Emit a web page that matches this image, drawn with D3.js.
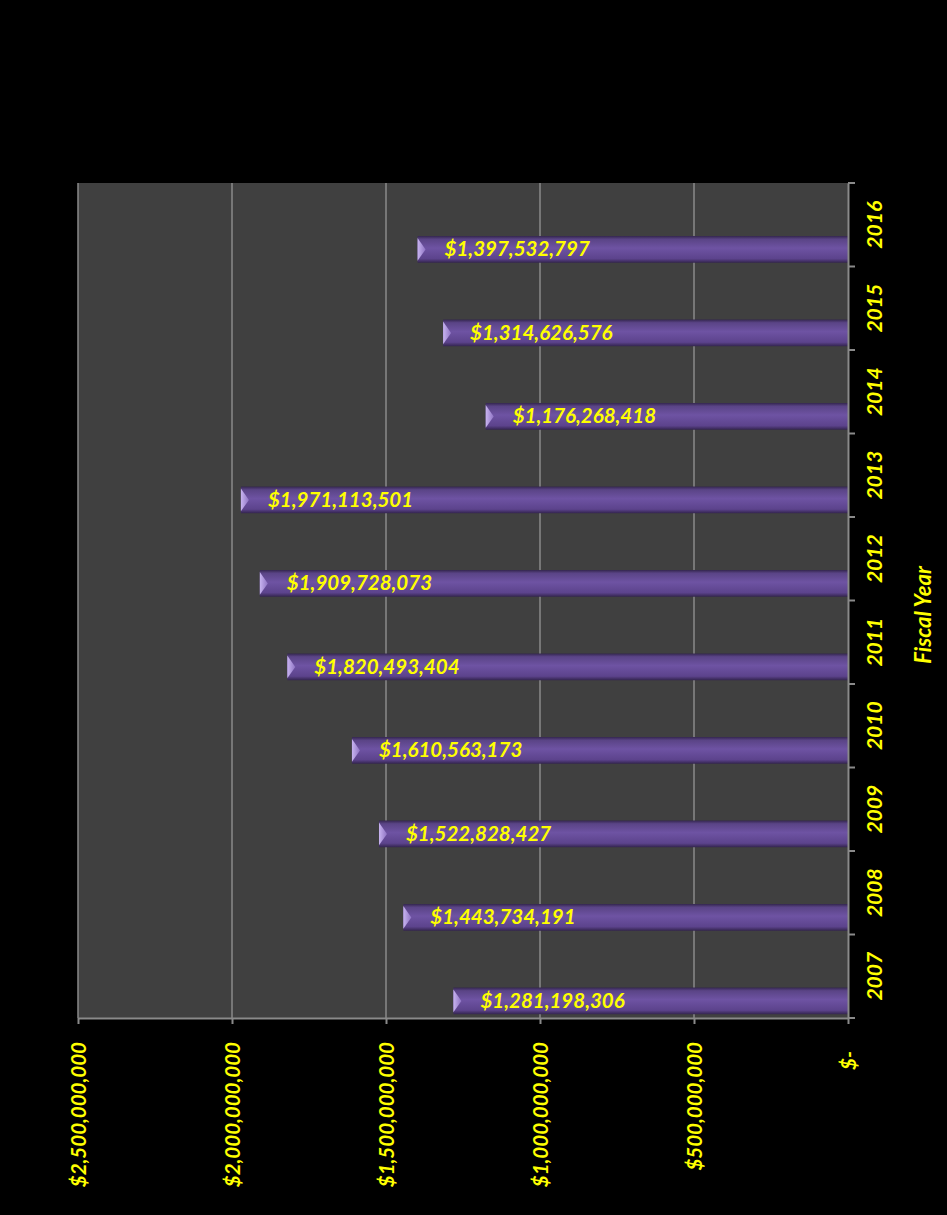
<!DOCTYPE html>
<html><head><meta charset="utf-8">
<script src="https://cdn.jsdelivr.net/npm/d3@7"></script>
<style>
html,body{margin:0;padding:0;background:#000;}
svg{display:block;}
text{font-family:Lato,"Open Sans",sans-serif;font-weight:bold;font-style:italic;fill:#ffff00;}
</style></head>
<body><svg id="chart" width="947" height="1215"></svg>
<script>
const years = ["2007","2008","2009","2010","2011","2012","2013","2014","2015","2016"];
const funding = [1281198306,1443734191,1522828427,1610563173,1820493404,1909728073,1971113501,1176268418,1314626576,1397532797];
const valueTicks = [0,500000000,1000000000,1500000000,2000000000,2500000000];
const axisTitle = "Fiscal Year";

(function(){
const svg = d3.select("#chart");
svg.append("rect").attr("width",947).attr("height",1215).attr("fill","#000");

const pL=78, pR=848, pT=183, pB=1018;
const x = d3.scaleLinear().domain([0,2500000000]).range([pR,pL]);
const y = d3.scaleBand().domain(years.slice().reverse()).range([pT,pB]).padding(0);
const bw = y.bandwidth();

const defs = svg.append("defs");
const g1 = defs.append("linearGradient").attr("id","barGrad").attr("x1",0).attr("y1",0).attr("x2",0).attr("y2",1);
[[0,"#34264f"],[0.12,"#5a4486"],[0.45,"#6e53a3"],[0.85,"#5c438c"],[1,"#33244e"]].forEach(s=>g1.append("stop").attr("offset",s[0]).attr("stop-color",s[1]));
const g2 = defs.append("linearGradient").attr("id","capGrad").attr("x1",0).attr("y1",0).attr("x2",1).attr("y2",0);
[[0,"#c8b4f0"],[1,"#8f74c4"]].forEach(s=>g2.append("stop").attr("offset",s[0]).attr("stop-color",s[1]));

svg.append("rect").attr("x",pL).attr("y",pT).attr("width",pR-pL).attr("height",pB-pT).attr("fill","#404040");

svg.append("g").selectAll("line").data(valueTicks.filter(d=>d>0)).join("line")
  .attr("x1",d=>x(d)).attr("x2",d=>x(d)).attr("y1",pT).attr("y2",pB)
  .attr("stroke","#8a8a8a").attr("stroke-width",1.5);

const data = years.map((yr,i)=>({yr, v:funding[i]}));
const bars = svg.append("g");
bars.selectAll("rect").data(data).join("rect")
  .attr("x",d=>x(d.v)).attr("y",d=>y(d.yr)+bw*0.635)
  .attr("width",d=>x(0)-x(d.v)).attr("height",bw*0.32)
  .attr("fill","url(#barGrad)");
bars.selectAll("path").data(data).join("path")
  .attr("d",d=>{
    const x0=x(d.v), y0=y(d.yr)+bw*0.635, h=bw*0.32;
    return `M${x0},${y0+2}L${x0+8},${y0+h*0.5}L${x0},${y0+h-2}Z`;
  })
  .attr("fill","url(#capGrad)");

svg.append("g").selectAll("text").data(data).join("text")
  .attr("x",d=>x(d.v)+27).attr("y",d=>y(d.yr)+bw*0.635+bw*0.16+7)
  .attr("font-size",20.5)
  .text(d=>d3.format("$,")(d.v));

const xAxis = svg.append("g").attr("transform",`translate(0,${pB})`)
  .call(d3.axisBottom(x).tickValues(valueTicks).tickSizeInner(6).tickSizeOuter(0)
    .tickFormat(d=> d===0 ? "$-  " : d3.format("$,")(d)));
xAxis.select(".domain").attr("stroke","#8a8a8a").attr("stroke-width",2);
xAxis.selectAll(".tick line").attr("stroke","#8a8a8a").attr("stroke-width",2);
xAxis.selectAll(".tick text")
  .attr("x",0).attr("y",0).attr("dy","0.35em")
  .attr("transform","translate(0,24) rotate(-90)")
  .attr("text-anchor","end").attr("font-size",20.5)
  .style("white-space","pre")
  .attr("fill","#ffff00");

const yAxis = svg.append("g").attr("transform",`translate(${pR},0)`)
  .call(d3.axisRight(y).tickSize(0));
yAxis.select(".domain").attr("stroke","#8a8a8a").attr("stroke-width",2);
yAxis.selectAll(".tick text")
  .attr("x",0).attr("y",0).attr("dy","0.35em")
  .attr("transform","translate(27,0) rotate(-90)")
  .attr("text-anchor","middle").attr("font-size",21)
  .attr("fill","#ffff00");
svg.append("g").selectAll("line").data(d3.range(years.length+1)).join("line")
  .attr("x1",pR).attr("x2",pR+7)
  .attr("y1",i=>pT+i*bw).attr("y2",i=>pT+i*bw)
  .attr("stroke","#8a8a8a").attr("stroke-width",2);

svg.append("text")
  .attr("transform",`translate(923,615) rotate(-90)`)
  .attr("dy","0.35em").attr("text-anchor","middle").attr("font-size",22)
  .text(axisTitle);
})();
</script>
</body></html>
